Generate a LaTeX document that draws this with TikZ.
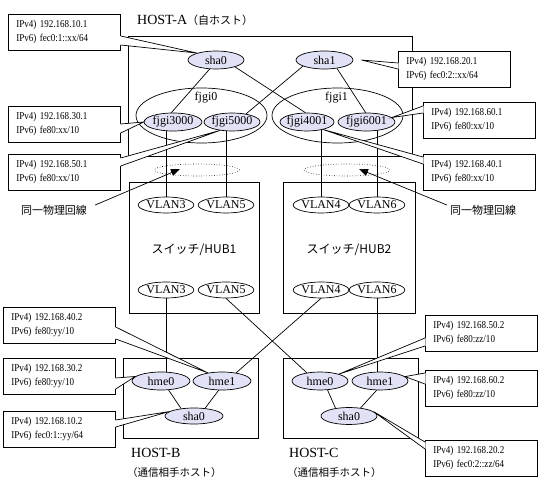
\documentclass[tikz,border=0pt]{standalone}
\usepackage{fontspec}
\setmainfont{Liberation Serif}
\newfontfamily\jp{Noto Sans CJK JP}
\newfontfamily\cf[FakeStretch=0.86]{Liberation Serif}
\usetikzlibrary{shapes.geometric,arrows.meta,calc}
\definecolor{lav}{RGB}{226,226,246}
\pgfdeclarelayer{bg}
\pgfsetlayers{bg,main}
\newcommand\tailR[4]{%
  \fill[white] ($(#1.north east)+(-0.6,#2)$) -- (#4) -- ($(#1.north east)+(-0.6,#3)$) -- cycle;
  \draw[ln] ($(#1.north east)+(0,#2)$) -- (#4) -- ($(#1.north east)+(0,#3)$);}
\newcommand\tailL[4]{%
  \fill[white] ($(#1.north west)+(0.6,#2)$) -- (#4) -- ($(#1.north west)+(0.6,#3)$) -- cycle;
  \draw[ln] ($(#1.north west)+(0,#2)$) -- (#4) -- ($(#1.north west)+(0,#3)$);}
\newcommand\ctr[1]{\makebox[0pt]{#1}}
\begin{document}
\begin{tikzpicture}[x=1pt,y=-1pt,
  every node/.style={inner sep=0pt},
  ln/.style={line width=0.7pt},
  ifc/.style={ellipse,draw,fill=lav,line width=0.7pt,minimum height=18pt,font=\fontsize{12}{14}\selectfont},
  vlan/.style={ellipse,draw,fill=white,line width=0.7pt,minimum width=48pt,minimum height=16pt,font=\fontsize{12}{14}\selectfont},
  grp/.style={ellipse,draw,line width=0.7pt,minimum width=131pt,minimum height=55pt},
  hostbox/.style={draw,line width=0.7pt,anchor=north west},
  callout/.style={draw,fill=white,line width=0.7pt,anchor=north west,minimum height=36pt,text width=96pt,inner xsep=8pt,align=left,font=\cf\fontsize{10.5}{14}\selectfont},
  phys/.style={ellipse,draw,dotted,line width=0.6pt,minimum height=12pt},
  arr/.style={line width=0.7pt,-{Triangle[length=9pt,width=7pt]}},
  big/.style={font=\fontsize{14}{16}\selectfont},
  jpl/.style={font=\jp\fontsize{10.5}{12}\selectfont},
  hub/.style={font=\jp\fontsize{12}{14}\selectfont},
  nm/.style={font=\fontsize{12}{14}\selectfont}
]
\useasboundingbox (0,0) rectangle (539,486);

% boxes
\node[hostbox,minimum width=284pt,minimum height=120pt] (hostA) at (128,36) {};
\node[hostbox,minimum width=130pt,minimum height=131pt] (hub1) at (129,182) {};
\node[hostbox,minimum width=132pt,minimum height=131pt] (hub2) at (283,182) {};
\node[hostbox,minimum width=135pt,minimum height=80pt] (hostB) at (123,358) {};
\node[hostbox,minimum width=135pt,minimum height=80pt] (hostC) at (283,358) {};

% host labels
\node[anchor=west] (hostAlbl) at (137,20) {{\fontsize{14}{16}\selectfont HOST-A}{\jp\fontsize{11}{13}\selectfont （自ホスト）}};
\node[anchor=west,big] (hostBlbl) at (131,453) {HOST-B};
\node[anchor=west,jpl] (hostBsub) at (127,473) {（通信相手ホスト）};
\node[anchor=west,big] (hostClbl) at (289,453) {HOST-C};
\node[anchor=west,jpl] (hostCsub) at (287,473) {（通信相手ホスト）};

% HOST-A interfaces
\node[grp] (fjgi0) at (201.5,115.5) {};
\node[grp] (fjgi1) at (337.5,115.5) {};
\node[nm] (fjgi0lbl) at (206,98) {fjgi0};
\node[nm] (fjgi1lbl) at (336.5,98) {fjgi1};
\node[ifc,minimum width=56pt] (sha0A) at (216,60) {\ctr{sha0}};
\node[ifc,minimum width=57pt] (sha1A) at (324.5,60) {\ctr{sha1}};
\node[ifc,minimum width=58pt] (fjgi3000) at (173,122) {\ctr{fjgi3000}};
\node[ifc,minimum width=56pt] (fjgi5000) at (232,122) {\ctr{fjgi5000}};
\node[ifc,minimum width=54pt] (fjgi4001) at (307,122) {\ctr{fjgi4001}};
\node[ifc,minimum width=57pt] (fjgi6001) at (366.5,122) {\ctr{fjgi6001}};

% switches
\node[vlan] (vlan3t) at (166,205) {VLAN3};
\node[vlan] (vlan5t) at (226,205) {VLAN5};
\node[vlan] (vlan4t) at (321,205) {VLAN4};
\node[vlan] (vlan6t) at (377,205) {VLAN6};
\node[vlan] (vlan3b) at (166,290) {VLAN3};
\node[vlan] (vlan5b) at (226,290) {VLAN5};
\node[vlan] (vlan4b) at (321,290) {VLAN4};
\node[vlan] (vlan6b) at (377,290) {VLAN6};
\node[hub] (hub1lbl) at (194,250) {スイッチ/HUB1};
\node[hub] (hub2lbl) at (349,250) {スイッチ/HUB2};

% same physical line
\node[phys,minimum width=85pt] (dotL) at (197,170) {};
\node[phys,minimum width=86pt] (dotR) at (347,170) {};
\node[font=\jp\fontsize{11}{13}\selectfont] (physL) at (54,210) {同一物理回線};
\node[font=\jp\fontsize{11}{13}\selectfont] (physR) at (483,210) {同一物理回線};
\draw[arr] ($(physL.east)+(8,-5)$) -- ($(dotL.center)+(-17,-1)$);
\draw[arr] ($(physR.west)+(-3,-5)$) -- ($(dotR.center)+(12,-1)$);

% HOST-B / HOST-C interfaces
\node[ifc,minimum width=58pt] (hme0B) at (161,381) {\ctr{hme0}};
\node[ifc,minimum width=58pt] (hme1B) at (222,381) {\ctr{hme1}};
\node[ifc,minimum width=58pt,minimum height=16pt] (sha0B) at (194,416) {\ctr{sha0}};
\node[ifc,minimum width=56pt] (hme0C) at (320,381) {\ctr{hme0}};
\node[ifc,minimum width=56pt] (hme1C) at (380,381) {\ctr{hme1}};
\node[ifc,minimum width=56pt,minimum height=17pt] (sha0C) at (349,416) {\ctr{sha0}};

% connectors (behind nodes)
\begin{pgfonlayer}{bg}
\draw[ln] (sha0A.235) -- (fjgi3000.100);
\draw[ln] (sha0A.-20) -- (fjgi4001.100);
\draw[ln] (sha1A.196) -- (fjgi5000.30);
\draw[ln] (sha1A.-34) -- (fjgi6001.95);
\draw[ln] (vlan3t.center) -- (vlan3t.center |- fjgi3000.center);
\draw[ln] (vlan5t.center) -- (vlan5t.center |- fjgi5000.center);
\draw[ln] (vlan4t.center) -- (vlan4t.center |- fjgi4001.center);
\draw[ln] (vlan6t.center) -- (vlan6t.center |- fjgi6001.center);
\draw[ln] (vlan3b.center) -- (vlan3b.center |- hme0B.center);
\draw[ln] (vlan6b.center) -- (vlan6b.center |- hme1C.center);
\draw[ln] (vlan5b.south) -- (hme0C.148);
\draw[ln] (vlan4b.south) -- (hme1B.30);
\draw[ln] (hme0B.-50) -- (sha0B.150);
\draw[ln] (hme1B.250) -- (sha0B.35);
\draw[ln] (hme0C.-50) -- (sha0C.150);
\draw[ln] (hme1C.250) -- (sha0C.35);
\end{pgfonlayer}

% callouts
\node[callout] (c1) at (8,14) {IPv4) 192.168.10.1\\IPv6) fec0:1::xx/64};
\tailR{c1}{22}{31}{sha0A.160}
\node[callout] (c2) at (8,106) {IPv4) 192.168.30.1\\IPv6) fe80:xx/10};
\tailR{c2}{18}{27}{fjgi3000.west}
\node[callout] (c3) at (8,154) {IPv4) 192.168.50.1\\IPv6) fe80:xx/10};
\tailR{c3}{4}{12}{fjgi5000.215}
\node[callout] (c4) at (398,51) {IPv4) 192.168.20.1\\IPv6) fec0:2::xx/64};
\coordinate (t4) at ($(sha1A.east)+(8,0)$);
\tailL{c4}{12}{18}{t4}
\node[callout] (c5) at (423,102) {IPv4) 192.168.60.1\\IPv6) fe80:xx/10};
\tailL{c5}{4}{11}{fjgi6001.10}
\node[callout] (c6) at (423,154) {IPv4) 192.168.40.1\\IPv6) fe80:xx/10};
\tailL{c6}{3}{10}{fjgi4001.-25}
\node[callout] (c7) at (3,307) {IPv4) 192.168.40.2\\IPv6) fe80:yy/10};
\tailR{c7}{20}{32}{hme1B.150}
\node[callout] (c8) at (3,358) {IPv4) 192.168.30.2\\IPv6) fe80:yy/10};
\tailR{c8}{20}{31}{hme0B.170}
\node[callout] (c9) at (3,411) {IPv4) 192.168.10.2\\IPv6) fec0:1::yy/64};
\tailR{c9}{9}{16}{sha0B.170}
\node[callout] (c10) at (425,315) {IPv4) 192.168.50.2\\IPv6) fe80:zz/10};
\tailL{c10}{23}{31}{hme0C.20}
\node[callout] (c11) at (425,370) {IPv4) 192.168.60.2\\IPv6) fe80:zz/10};
\tailL{c11}{3}{14}{hme1C.10}
\node[callout] (c12) at (425,440) {IPv4) 192.168.20.2\\IPv6) fec0:2::zz/64};
\tailL{c12}{2}{9}{sha0C.10}
\end{tikzpicture}
\end{document}
